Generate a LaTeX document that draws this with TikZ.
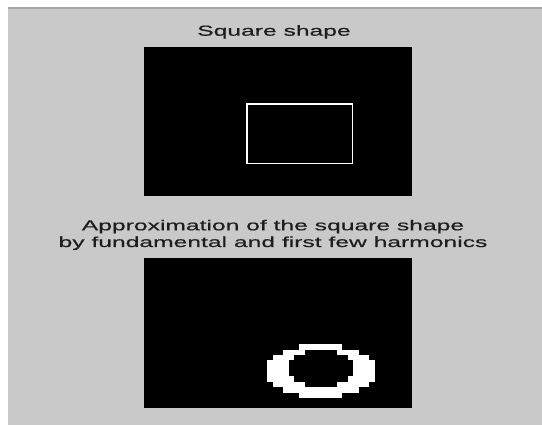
\documentclass[tikz,border=0pt]{standalone}
\usepackage{fontspec}
\usepackage{tikz}
\newfontfamily\plotfont{Liberation Sans}[FakeStretch=1.7, FakeBold=0.5]
\definecolor{figgray}{HTML}{C9C9C9}
\definecolor{figedge}{HTML}{A4A4A4}
\definecolor{figtext}{HTML}{1E1E1E}
\tikzset{
  panel/.style={fill=black},
  caption/.style={font=\plotfont\fontsize{14.5}{16.7}\selectfont, text=figtext,
                  anchor=base, inner sep=0pt},
  outline/.style={draw=white, line width=1.5pt},
  pixel/.style={fill=white}
}

\begin{document}
\begin{tikzpicture}[x=1pt, y=-1pt]
  \useasboundingbox (0,0) rectangle (542,425);
  % window background
  \fill[figgray] (8,7) rectangle (542,425);
  \draw[figedge, line width=2pt] (8,8) -- (542,8);

  % upper panel
  \node[caption] (title) at (274,35.7) {Square shape};
  \fill[panel] (144,46.7) rectangle (411.5,196);
  \draw[outline] (247,104) rectangle (352.6,163.7);

  % lower panel
  \node[caption] (approx) at (273,230.3) {Approximation of the square shape};
  \node[caption] (harm) at (273,247) {by fundamental and first few harmonics};
  \fill[panel] (144,258.5) rectangle (412,408.5);
  \foreach \c in {22,...,43}{
    \foreach \r in {15,...,26}{
      \pgfmathtruncatemacro\ringin{(((\c+0.5-33)/10)^2+((\r+0.5-21)/5)^2<=1)
        && (((\c+0.5-33)/6)^2+((\r+0.5-20.5)/3.5)^2>1)}
      \ifnum\ringin=1
        \fill[pixel] ({144+\c*5.36},{258.5+\r*5.36}) rectangle ++(5.5,5.5);
      \fi
    }
  }
\end{tikzpicture}
\end{document}
